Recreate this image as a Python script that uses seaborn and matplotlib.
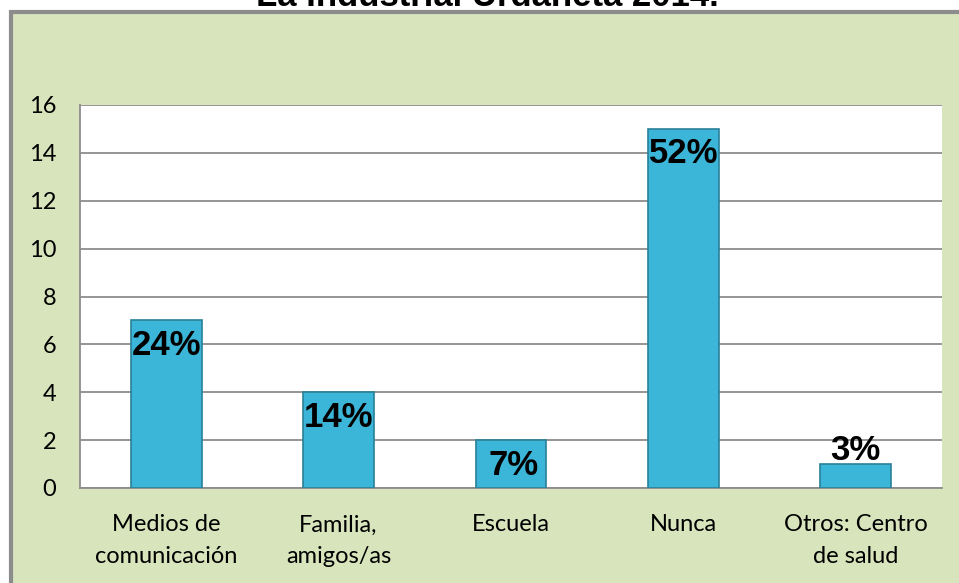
import matplotlib
matplotlib.use("Agg")
import pandas as pd
import seaborn as sns
from matplotlib import pyplot as plt
from matplotlib.patches import Rectangle

categories = ["Medios de\ncomunicación", "Familia,\namigos/as", "Escuela", "Nunca", "Otros: Centro\nde salud"]
counts = [7, 4, 2, 15, 1]
pct_labels = ["24%", "14%", "7%", "52%", "3%"]
title = "La Industrial Urdaneta 2014."

data = pd.DataFrame({"Categoria": categories, "Cantidad": counts})

sns.set_style("white")
plt.rcParams["font.family"] = ["Lato", "DejaVu Sans"]
plt.rcParams["text.color"] = "black"
plt.rcParams["xtick.color"] = "black"
plt.rcParams["ytick.color"] = "black"

fig = plt.figure(figsize=(9.59, 5.83), dpi=100)
fig.patch.set_facecolor("white")

# green chart area with gray frame
W, H = 959, 583
fig.patches.append(Rectangle((10.5 / W, -0.05), 1.1, 1.05 - 11.5 / H, transform=fig.transFigure,
                             facecolor="#D8E4BC", edgecolor="#8C8C8C", linewidth=3, zorder=1))
# title sits mostly above the image edge, as in the original
fig.text(487 / W, 1 - 6 / H, title, ha="center", va="baseline", fontsize=25, fontweight="bold",
         family="Liberation Sans", zorder=0)

ax = fig.add_axes([80 / W, 95 / H, 862 / W, 383 / H])
ax.set_facecolor("white")
ax.set_zorder(2)

sns.barplot(data, x="Categoria", y="Cantidad", ax=ax, color="#3CB6D8", width=0.41,
            edgecolor="#2A8199", linewidth=1.2, saturation=1, zorder=3)

ax.set_ylim(0, 16)
ax.set_yticks(range(0, 17, 2))
ax.set_xlim(-0.5, len(categories) - 0.5)
ax.grid(axis="y", color="#8C8C8C", linewidth=1.3, zorder=0)
ax.set_axisbelow(True)
for s in ["top", "right"]:
    ax.spines[s].set_visible(False)
ax.spines["left"].set_color("#8C8C8C")
ax.spines["bottom"].set_color("#8C8C8C")
ax.spines["left"].set_linewidth(1.3)
ax.spines["bottom"].set_linewidth(1.3)
ax.tick_params(axis="y", length=8, width=1.3, color="#8C8C8C", labelsize=17, pad=9)
ax.tick_params(axis="x", length=0, labelsize=17, pad=19)
for t in ax.get_xticklabels():
    t.set_linespacing(1.6)
ax.set_xlabel("")
ax.set_ylabel("")

for i, (v, lab) in enumerate(zip(counts, pct_labels)):
    off = 10 if v < 2 else -18
    ax.annotate(lab, (i, v), xytext=(2 if v == 2 else 0, off), textcoords="offset points",
                ha="center", va="center", fontsize=25, fontweight="bold",
                family="Liberation Sans", color="black", zorder=5)

fig.savefig("out.png", dpi=100)
